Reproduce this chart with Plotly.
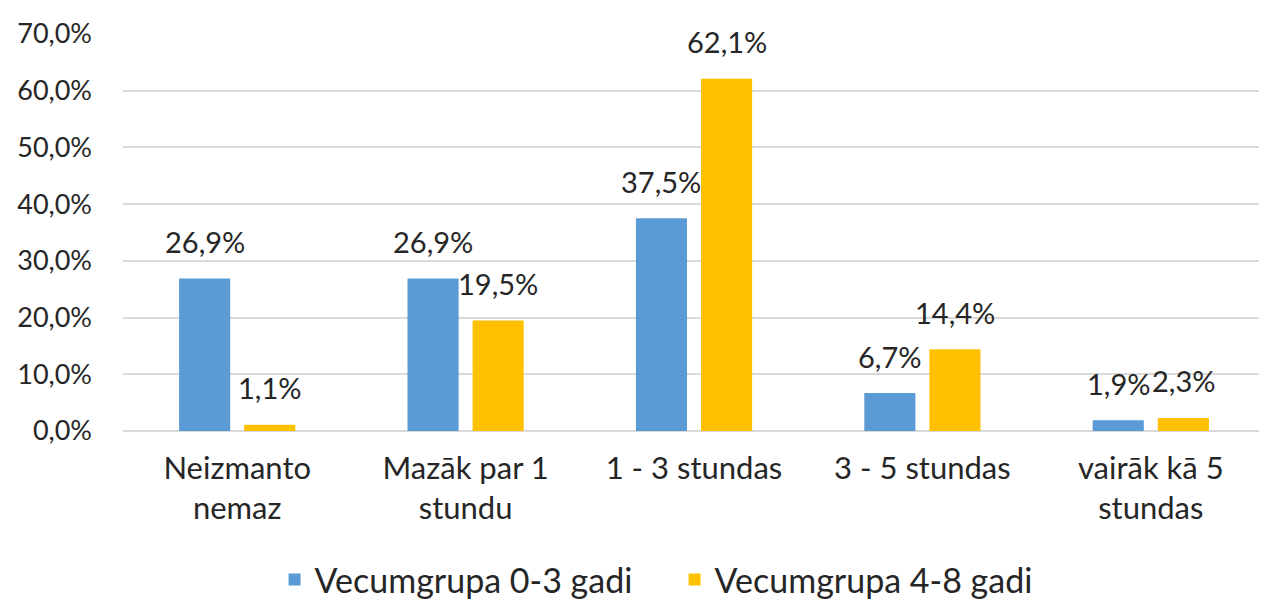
import plotly.graph_objects as go

categories = ["Neizmanto<br>nemaz", "Mazāk par 1<br>stundu", "1 - 3 stundas", "3 - 5 stundas", "vairāk kā 5<br>stundas"]
series_names = ["Vecumgrupa 0-3 gadi", "Vecumgrupa 4-8 gadi"]
values_0_3 = [0.269, 0.269, 0.375, 0.067, 0.019]
values_4_8 = [0.011, 0.195, 0.621, 0.144, 0.023]
tick_vals = [0, 0.1, 0.2, 0.3, 0.4, 0.5, 0.6, 0.7]

colors = ["#5B9BD5", "#FFC000"]
FONT = "Lato"
FS_TICK = 27
FS_LABEL = 29
FS_CAT = 31
FS_LEG = 34
TXT = "#262626"

fig = go.Figure()
for name, vals, col in zip(series_names, [values_0_3, values_4_8], colors):
    fig.add_trace(go.Bar(x=categories, y=vals, name=name, marker=dict(color=col, line=dict(width=0))))

def fmt(v):
    return f"{v*100:.1f}".replace(".", ",") + "%"

W, H = 1267, 603
ml, mr, mt, mb = 115, 10, 26, 180
plot_w = W - ml - mr
bargap = 0.43
group_w = plot_w / len(categories) * (1 - bargap)
slot = group_w / 2
for s, vals in enumerate([values_0_3, values_4_8]):
    shift = (s - 0.5) * slot
    for c, v in zip(categories, vals):
        fig.add_annotation(x=c, y=v, text=fmt(v), showarrow=False, xshift=shift, yshift=37,
                           yanchor="middle", font=dict(family=FONT, size=FS_LABEL, color=TXT))

fig.update_layout(
    width=W, height=H,
    margin=dict(l=ml, r=mr, t=mt, b=mb, autoexpand=False),
    paper_bgcolor="white", plot_bgcolor="white",
    barmode="group", bargap=bargap, bargroupgap=0.215,
    separators=", ",
    font=dict(family=FONT, size=FS_TICK, color=TXT),
    showlegend=True,
    legend=dict(orientation="h", x=0.483, xanchor="center", y=-0.375, yanchor="middle",
                font=dict(family=FONT, size=FS_LEG, color=TXT), itemwidth=30, traceorder="normal",
                entrywidth=355),
    xaxis=dict(showgrid=False, showline=False, ticks="", automargin=False, ticklabelstandoff=16,
               tickfont=dict(size=FS_CAT)),
    yaxis=dict(range=[0, 0.7], tickvals=tick_vals, tickformat=".1%", gridcolor="#D9D9D9", gridwidth=1.5,
               zeroline=True, zerolinecolor="#D9D9D9", zerolinewidth=1.5, showline=False, automargin=False,
               ticklabelstandoff=30, tickfont=dict(size=FS_TICK)),
)

fig.write_html("out.html")
